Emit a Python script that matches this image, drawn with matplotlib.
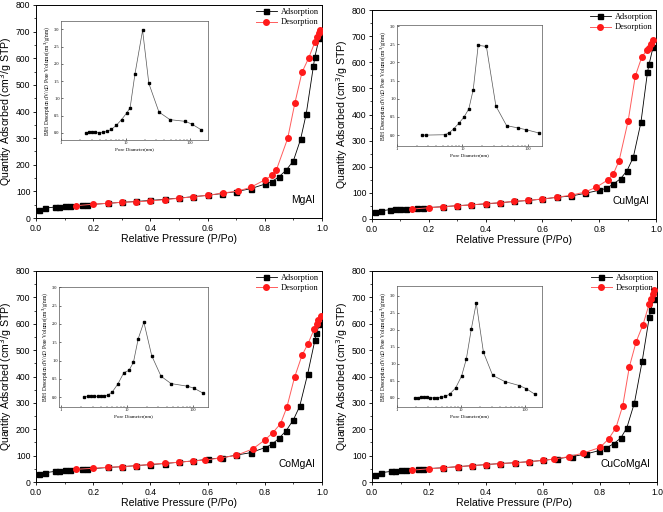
import matplotlib.pyplot as plt
import matplotlib.ticker as mticker

# ---- data ----
samples = ["MgAl", "CuMgAl", "CoMgAl", "CuCoMgAl"]

ads_p_mgal = [0.01, 0.03, 0.065, 0.08, 0.10, 0.12, 0.16, 0.18, 0.25, 0.30, 0.35, 0.40, 0.45, 0.50, 0.55,
              0.60, 0.65, 0.70, 0.75, 0.80, 0.825, 0.85, 0.875, 0.90, 0.925, 0.945, 0.97, 0.975, 0.99]
ads_q_mgal = [30, 37, 41, 43, 45, 46, 48, 50, 55, 59, 62, 66, 70, 75, 80,
              85, 92, 99, 110, 127, 137, 155, 180, 215, 295, 392, 570, 605, 675]
des_p_mgal = [0.14, 0.20, 0.25, 0.30, 0.35, 0.40, 0.45, 0.50, 0.55, 0.60, 0.655, 0.705, 0.75, 0.80,
              0.825, 0.84, 0.88, 0.905, 0.93, 0.953, 0.975, 0.982, 0.988, 0.994]
des_q_mgal = [46, 52, 55, 59, 61, 64, 69, 74, 80, 85, 94, 101, 115, 143,
              160, 179, 299, 431, 547, 600, 660, 680, 695, 705]

ads_p_cumgal = [0.009, 0.03, 0.065, 0.08, 0.10, 0.12, 0.16, 0.18, 0.25, 0.30, 0.35, 0.40, 0.45, 0.50, 0.55,
                0.60, 0.65, 0.70, 0.75, 0.80, 0.825, 0.85, 0.875, 0.898, 0.92, 0.947, 0.97, 0.976, 0.99]
ads_q_cumgal = [27, 31, 36, 37, 37, 38, 42, 43, 47, 51, 54, 58, 62, 67, 71,
                76, 83, 88, 98, 110, 117, 134, 154, 185, 236, 370, 562, 594, 659]
des_p_cumgal = [0.14, 0.20, 0.25, 0.30, 0.35, 0.40, 0.45, 0.50, 0.55, 0.60, 0.65, 0.70, 0.75, 0.79,
                0.83, 0.85, 0.87, 0.902, 0.927, 0.95, 0.967, 0.975, 0.983, 0.99]
des_q_cumgal = [38, 43, 47, 51, 54, 59, 62, 68, 71, 77, 83, 91, 103, 122,
                149, 173, 223, 376, 547, 620, 645, 656, 670, 687]

ads_p_comgal = [0.01, 0.03, 0.065, 0.08, 0.10, 0.12, 0.16, 0.18, 0.25, 0.30, 0.35, 0.40, 0.45, 0.50, 0.55,
                0.60, 0.65, 0.70, 0.75, 0.80, 0.825, 0.85, 0.875, 0.90, 0.922, 0.95, 0.975, 0.98, 0.993]
ads_q_comgal = [29, 35, 40, 42, 44, 46, 48, 49, 55, 58, 62, 66, 70, 75, 80,
                86, 92, 102, 111, 130, 143, 166, 195, 236, 287, 410, 537, 565, 600]
des_p_comgal = [0.14, 0.20, 0.25, 0.30, 0.35, 0.40, 0.45, 0.50, 0.55, 0.59, 0.645, 0.70, 0.757, 0.80,
                0.828, 0.855, 0.877, 0.904, 0.93, 0.95, 0.973, 0.981, 0.987, 0.995]
des_q_comgal = [48, 52, 56, 58, 62, 67, 71, 75, 80, 83, 91, 101, 125, 159,
                187, 221, 283, 397, 480, 522, 580, 598, 616, 628]

ads_p_cucomgal = [0.01, 0.03, 0.065, 0.08, 0.10, 0.12, 0.16, 0.18, 0.25, 0.30, 0.35, 0.40, 0.45, 0.50, 0.55,
                  0.60, 0.65, 0.70, 0.75, 0.797, 0.82, 0.848, 0.873, 0.894, 0.921, 0.948, 0.973, 0.979, 0.988]
ads_q_cucomgal = [28, 35, 40, 42, 44, 45, 48, 50, 54, 58, 62, 66, 70, 73, 77,
                  82, 88, 96, 106, 119, 128, 145, 167, 205, 301, 458, 626, 654, 693]
des_p_cucomgal = [0.14, 0.20, 0.25, 0.30, 0.35, 0.40, 0.45, 0.50, 0.55, 0.60, 0.638, 0.69, 0.742, 0.80,
                  0.83, 0.856, 0.88, 0.903, 0.927, 0.951, 0.972, 0.978, 0.985, 0.99]
des_q_cucomgal = [45, 50, 54, 58, 62, 66, 70, 73, 77, 82, 87, 96, 110, 131,
                  163, 206, 290, 437, 532, 597, 673, 693, 712, 727]

# BJH pore size distributions (insets)
bjh_d_mgal = [2.45, 2.76, 3.03, 3.34, 3.85, 4.44, 5.19, 6.06, 7.24, 8.67, 10.5, 11.8, 14.0, 18.4, 23.0,
              33.0, 48.9, 84.6, 107, 148]
bjh_v_mgal = [0.0, 0.02, 0.02, 0.01, 0.0, 0.01, 0.04, 0.1, 0.22, 0.38, 0.58, 0.73, 1.7, 2.97, 1.43,
              0.6, 0.38, 0.33, 0.25, 0.09]

bjh_d_cumgal = [2.41, 2.77, 5.34, 6.22, 7.33, 8.84, 10.5, 12.5, 14.6, 17.4, 23.2, 32.4, 47.2, 69.5, 93.1, 146]
bjh_v_cumgal = [0.0, 0.0, 0.01, 0.06, 0.17, 0.33, 0.49, 0.72, 1.25, 2.47, 2.44, 0.8, 0.26, 0.2, 0.15, 0.06]

bjh_d_comgal = [2.23, 2.53, 2.84, 3.19, 3.58, 4.02, 4.52, 5.07, 5.97, 7.27, 8.96, 10.7, 12.5, 14.8, 18.0,
                23.7, 32.8, 46.5, 81.2, 102, 142]
bjh_v_comgal = [0.0, 0.02, 0.02, 0.02, 0.02, 0.02, 0.03, 0.05, 0.14, 0.36, 0.67, 0.73, 0.95, 1.6, 2.05,
                1.13, 0.57, 0.37, 0.3, 0.25, 0.11]

bjh_d_cucomgal = [1.89, 2.10, 2.36, 2.63, 2.92, 3.32, 3.78, 4.26, 4.90, 5.65, 6.66, 8.24, 10.2, 12.1, 14.5,
                  17.3, 22.4, 31.2, 48.2, 81.8, 104, 144]
bjh_v_cucomgal = [0.0, 0.0, 0.02, 0.01, 0.01, 0.0, 0.0, 0.0, 0.01, 0.04, 0.11, 0.29, 0.64, 1.14, 2.03,
                  2.79, 1.34, 0.66, 0.48, 0.36, 0.27, 0.1]

ads_p = [ads_p_mgal, ads_p_cumgal, ads_p_comgal, ads_p_cucomgal]
ads_q = [ads_q_mgal, ads_q_cumgal, ads_q_comgal, ads_q_cucomgal]
des_p = [des_p_mgal, des_p_cumgal, des_p_comgal, des_p_cucomgal]
des_q = [des_q_mgal, des_q_cumgal, des_q_comgal, des_q_cucomgal]
bjh_d = [bjh_d_mgal, bjh_d_cumgal, bjh_d_comgal, bjh_d_cucomgal]
bjh_v = [bjh_v_mgal, bjh_v_cumgal, bjh_v_comgal, bjh_v_cucomgal]

# ---- layout (pixel boxes: left, top, right, bottom) ----
W, H = 663, 512
main_boxes = [(36, 5, 322, 218), (372, 10, 656, 219), (36, 271, 322, 482), (372, 271, 657, 482)]
inset_boxes = [(61, 21, 208, 140), (397, 25, 542, 146), (59, 287, 208, 407), (397, 286, 542, 407)]
inset_xlims = [(1, 190), (1, 164), (0.93, 169), (1, 184)]
inset_ylims = [(-0.21, 3.24), (-0.3, 3.03), (-0.27, 3.01), (-0.27, 3.29)]


def rect(box):
    l, t, r, b = box
    return [l / W, 1 - b / H, (r - l) / W, (b - t) / H]


plt.rcParams['font.family'] = ['Liberation Sans', 'DejaVu Sans']
serif = ['Liberation Serif', 'DejaVu Serif']
red = '#ff1a1a'

fig = plt.figure(figsize=(6.63, 5.12), dpi=100)

for i in range(4):
    ax = fig.add_axes(rect(main_boxes[i]))
    ax.plot(ads_p[i], ads_q[i], '-s', color='black', lw=0.6, ms=3.6, label='Adsorption', zorder=2)
    ax.plot(des_p[i], des_q[i], '-o', color='#ff5c5c', mfc=red, mec=red, lw=0.7, ms=4.0,
            label='Desorption', zorder=3)
    ax.set_xlim(0, 1.0)
    ax.set_ylim(0, 800)
    ax.xaxis.set_major_locator(mticker.MultipleLocator(0.2))
    ax.xaxis.set_minor_locator(mticker.MultipleLocator(0.1))
    ax.yaxis.set_major_locator(mticker.MultipleLocator(100))
    ax.yaxis.set_minor_locator(mticker.MultipleLocator(50))
    ax.xaxis.set_major_formatter(mticker.FormatStrFormatter('%.1f'))
    ax.tick_params(labelsize=6.2, length=2.5, width=0.6, pad=1.5, direction='out')
    ax.tick_params(which='minor', length=1.5, width=0.5, direction='out')
    for s in ax.spines.values():
        s.set_linewidth(0.7)
    ax.set_xlabel('Relative Pressure (P/Po)', fontsize=7.6, labelpad=1)
    ax.set_ylabel('Quantity Adsorbed (cm$^3$/g STP)', fontsize=7.6, labelpad=1)
    ax.text(0.975, 0.06, samples[i], transform=ax.transAxes, ha='right', va='bottom', fontsize=7.4)
    ax.legend(loc='upper right', frameon=False, prop={'family': serif, 'size': 6},
              handlelength=2.6, handletextpad=0.4, labelspacing=0.25,
              borderaxespad=0.2, borderpad=0.2)

    ins = fig.add_axes(rect(inset_boxes[i]))
    ins.plot(bjh_d[i], bjh_v[i], '-s', color='#555555', mfc='black', mec='black', lw=0.5, ms=1.6)
    ins.set_xscale('log')
    ins.set_xlim(*inset_xlims[i])
    ins.set_ylim(*inset_ylims[i])
    ins.xaxis.set_major_locator(mticker.FixedLocator([1, 10, 100]))
    ins.xaxis.set_major_formatter(mticker.FixedFormatter(['1', '10', '100']))
    ins.yaxis.set_major_locator(mticker.MultipleLocator(0.5))
    ins.yaxis.set_major_formatter(mticker.FormatStrFormatter('%.1f'))
    ins.tick_params(labelsize=3.2, length=1.5, width=0.4, pad=1, direction='in')
    ins.tick_params(which='minor', length=0.8, width=0.3, direction='in')
    for lab in ins.get_xticklabels() + ins.get_yticklabels():
        lab.set_family(serif)
    for s in ins.spines.values():
        s.set_linewidth(0.5)
        s.set_color('#555555')
    ins.set_xlabel('Pore Diameter(nm)', fontsize=3.6, family=serif, labelpad=1.5)
    ins.set_ylabel('BJH Desorption dV/dD Pore Volume(cm$^3$/g/nm)', fontsize=4.0, family=serif,
                   labelpad=1.5)

fig.savefig('out.png', dpi=100)
